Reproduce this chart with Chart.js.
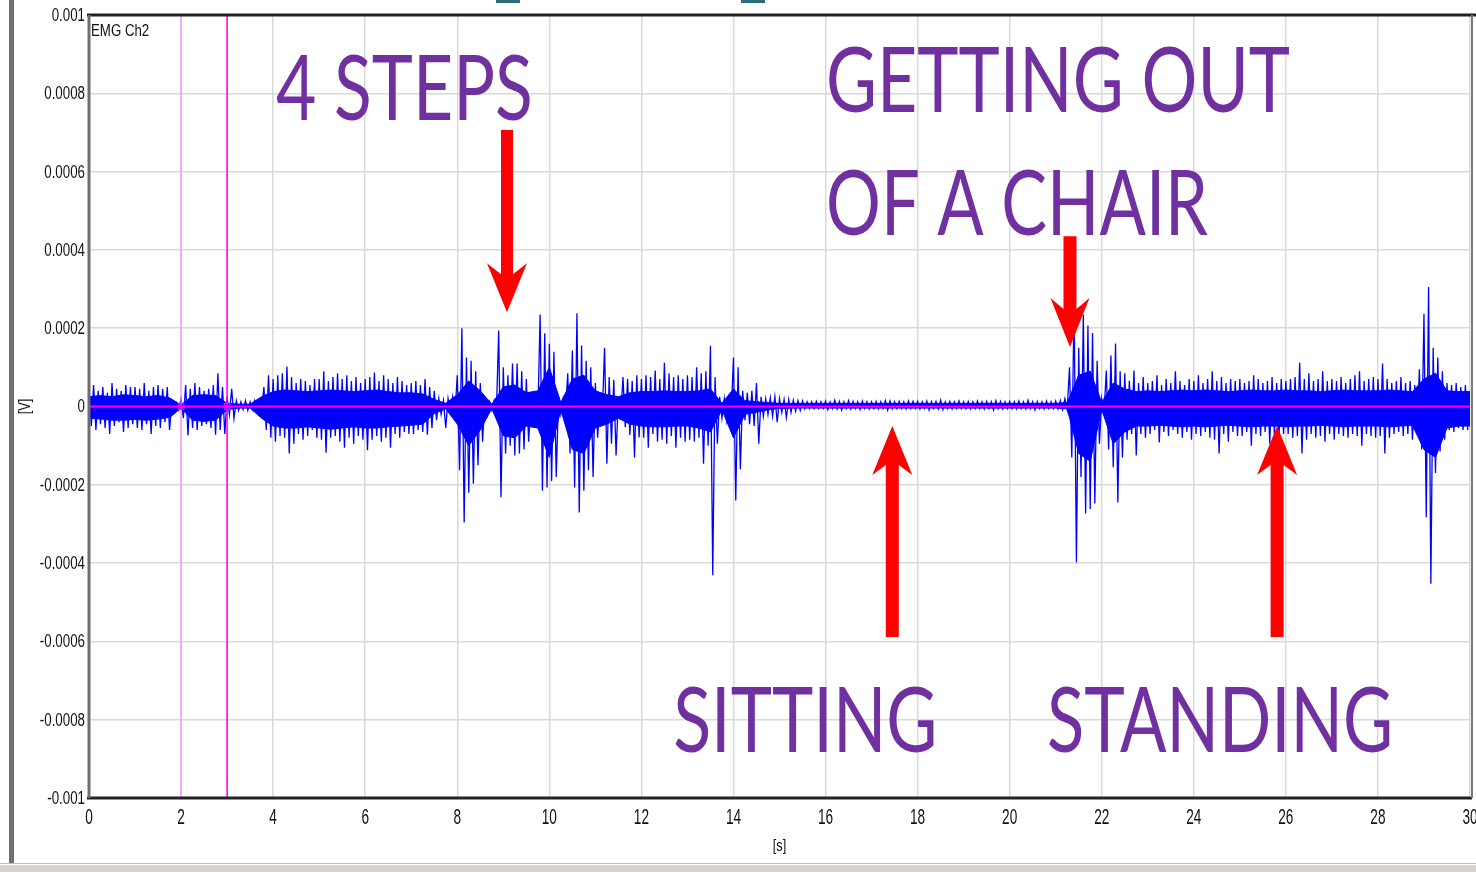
<!DOCTYPE html>
<html>
<head>
<meta charset="utf-8">
<script src="https://cdn.jsdelivr.net/npm/chart.js@4.4.1/dist/chart.umd.min.js"></script>
<style>
  html, body { margin: 0; padding: 0; background: #ffffff; }
  #wrap { width: 1476px; height: 872px; position: relative; }
</style>
</head>
<body>
<div id="wrap"><canvas id="c" width="1476" height="872"></canvas></div>
<script>
// ---------- DATA (values in microvolts) ----------
// peak envelope, one bin = 0.1 s
const binStep = 0.1;
const upperEnv = [
  45, 55, 40, 50, 35, 60, 45, 40, 55, 50,
  50, 45, 60, 40, 50, 55, 45, 50, 10, 8,
  20, 55, 45, 60, 50, 40, 45, 55, 85, 50,
  25, 45, 15, 12, 15, 12, 15, 12, 50, 80,
  70, 80, 85, 102, 75, 60, 70, 65, 55, 70,
  70, 90, 65, 75, 85, 70, 80, 65, 75, 60,
  70, 75, 87, 65, 80, 70, 60, 75, 65, 55,
  60, 65, 55, 70, 50, 40, 20, 15, 20, 25,
  80, 200, 125, 117, 90, 60, 20, 12, 15, 194,
  100, 80, 110, 110, 90, 70, 15, 20, 235, 187,
  160, 140, 25, 20, 85, 143, 238, 156, 117, 100,
  60, 20, 150, 75, 68, 25, 75, 70, 65, 80,
  70, 80, 75, 92, 70, 112, 85, 75, 80, 70,
  80, 75, 100, 85, 90, 155, 75, 25, 20, 20,
  125, 100, 40, 35, 40, 60, 25, 20, 22, 25,
  20, 18, 18, 16, 15, 14, 12, 12, 13, 12,
  14, 12, 16, 13, 12, 15, 13, 12, 14, 12,
  12, 13, 12, 15, 14, 12, 13, 12, 14, 13,
  13, 12, 14, 12, 13, 16, 12, 13, 12, 14,
  12, 13, 12, 14, 12, 13, 12, 15, 13, 12,
  13, 12, 14, 12, 16, 12, 13, 12, 14, 12,
  14, 15, 20, 100, 265, 150, 235, 207, 188, 117,
  20, 92, 130, 161, 90, 85, 66, 92, 60, 75,
  60, 65, 80, 55, 70, 60, 90, 65, 55, 70,
  65, 80, 60, 70, 90, 65, 75, 60, 70, 65,
  70, 60, 65, 80, 70, 60, 65, 75, 60, 70,
  65, 70, 75, 112, 70, 85, 65, 70, 90, 65,
  70, 65, 75, 60, 70, 80, 90, 65, 70, 75,
  70, 110, 70, 60, 65, 75, 60, 65, 55, 95,
  237, 305, 150, 125, 90, 60, 55, 60, 50, 55
];
const lowerEnv = [
  -50, -60, -45, -55, -70, -50, -40, -65, -55, -45,
  -55, -60, -45, -70, -50, -55, -40, -60, -15, -8,
  -30, -74, -55, -60, -50, -45, -55, -72, -60, -70,
  -20, -30, -10, -8, -10, -8, -10, -8, -60, -80,
  -90, -75, -80, -120, -95, -70, -85, -75, -60, -80,
  -85, -118, -80, -75, -90, -105, -80, -95, -75, -85,
  -112, -85, -75, -90, -80, -105, -70, -80, -65, -70,
  -70, -60, -65, -72, -55, -35, -20, -55, -15, -20,
  -163, -296, -220, -197, -150, -90, -20, -10, -15, -232,
  -120, -100, -125, -120, -110, -90, -15, -25, -215, -207,
  -190, -180, -20, -15, -120, -207, -271, -215, -163, -180,
  -80, -20, -146, -95, -125, -30, -53, -73, -130, -79,
  -80, -105, -70, -90, -85, -95, -75, -105, -80, -90,
  -85, -90, -80, -146, -100, -431, -95, -30, -35, -20,
  -240, -160, -35, -45, -50, -95, -25, -20, -25, -40,
  -15, -28, -15, -12, -10, -6, -5, -5, -5, -5,
  -8, -5, -6, -9, -5, -6, -5, -8, -5, -6,
  -5, -6, -5, -9, -6, -5, -5, -6, -5, -5,
  -6, -5, -9, -5, -6, -8, -5, -6, -5, -5,
  -5, -6, -5, -5, -6, -5, -9, -5, -6, -5,
  -5, -6, -5, -6, -5, -9, -5, -6, -5, -5,
  -6, -8, -8, -130, -398, -180, -273, -262, -248, -95,
  -15, -110, -155, -245, -130, -85, -70, -125, -70, -80,
  -70, -60, -92, -65, -75, -60, -70, -80, -65, -85,
  -70, -75, -65, -80, -85, -120, -70, -90, -65, -75,
  -75, -65, -100, -70, -75, -65, -95, -70, -80, -70,
  -70, -80, -75, -120, -85, -70, -80, -75, -90, -70,
  -85, -70, -75, -80, -70, -75, -100, -70, -75, -80,
  -75, -120, -80, -70, -65, -75, -70, -85, -65, -110,
  -283, -453, -170, -115, -85, -60, -65, -55, -60, -60
];
// dense core of the signal, one point every 0.25 s
const coreStep = 0.25;
const coreUpper = [
  25, 28, 25, 30, 28, 25, 28, 22,
  4, 28, 30, 28, 8, 6, 6, 25,
  38, 42, 40, 38, 40, 42, 40, 38,
  40, 42, 38, 35, 35, 32, 18, 8,
  30, 65, 40, 6, 50, 55, 35, 40,
  100, 10, 70, 80, 40, 30, 25, 35,
  38, 38, 40, 38, 38, 40, 45, 8,
  45, 15, 12, 10, 8, 8, 8, 8,
  8, 8, 8, 8, 8, 8, 8, 8,
  8, 8, 8, 8, 8, 8, 8, 8,
  8, 8, 8, 8, 8, 10, 80, 90,
  10, 60, 45, 38, 40, 38, 40, 42,
  40, 42, 40, 38, 40, 42, 40, 40,
  42, 40, 40, 38, 40, 42, 40, 40,
  40, 42, 40, 38, 70, 85, 40, 38,
  38
];
const coreLower = [
  -30, -32, -35, -35, -33, -35, -32, -28,
  -4, -35, -38, -35, -8, -4, -4, -30,
  -50, -55, -55, -52, -55, -58, -55, -52,
  -55, -55, -52, -50, -48, -45, -18, -6,
  -45, -100, -60, -5, -75, -80, -50, -55,
  -130, -8, -110, -120, -55, -45, -30, -45,
  -50, -52, -52, -50, -50, -55, -65, -8,
  -80, -20, -15, -8, -5, -4, -4, -4,
  -4, -4, -4, -4, -4, -4, -4, -4,
  -4, -4, -4, -4, -4, -4, -4, -4,
  -4, -4, -4, -4, -4, -6, -120, -140,
  -8, -95, -65, -50, -50, -48, -50, -52,
  -50, -52, -50, -48, -50, -52, -50, -50,
  -52, -50, -50, -48, -50, -52, -50, -50,
  -50, -52, -50, -48, -110, -130, -55, -50,
  -50
];
const cursorTimes = [2, 3];
const yTickLabels = ['0.001', '0.0008', '0.0006', '0.0004', '0.0002', '0',
                     '-0.0002', '-0.0004', '-0.0006', '-0.0008', '-0.001'];
const xTickLabels = ['0', '2', '4', '6', '8', '10', '12', '14', '16', '18',
                     '20', '22', '24', '26', '28', '30'];
const axisTitles = { x: '[s]', y: '[V]' };
const channelName = 'EMG Ch2';
const noteTexts = ['4 STEPS', 'GETTING OUT', 'OF A CHAIR', 'SITTING', 'STANDING'];

// ---------- BUILD ----------
const signalPoints = [];
for (let i = 0; i < upperEnv.length; i++) {
  signalPoints.push({ x: i * binStep, y: upperEnv[i] });
  signalPoints.push({ x: i * binStep + binStep / 2, y: lowerEnv[i] });
}
const corePtsUp = coreUpper.map((v, i) => ({ x: i * coreStep, y: v }));
const corePtsLo = coreLower.map((v, i) => ({ x: i * coreStep, y: v }));
const tMax = upperEnv.length * binStep;

const cursorSets = cursorTimes.map((t, k) => ({
  data: [{ x: t, y: -1000 }, { x: t, y: 1000 }],
  borderColor: k === 0 ? '#ff8cff' : '#ff00ff',
  borderWidth: k === 0 ? 1.2 : 1.6,
  pointRadius: 0, order: 1, fill: false
}));

const LAB = "'Liberation Sans', Arial, sans-serif";

function squeezed(ctx, text, x, y, sx, align) {
  const w = ctx.measureText(text).width * sx;
  const x0 = align === 'right' ? x - w : (align === 'center' ? x - w / 2 : x);
  ctx.save();
  ctx.translate(x0, y);
  ctx.scale(sx, 1);
  ctx.textAlign = 'left';
  ctx.fillText(text, 0, 0);
  ctx.restore();
}

const notesPlugin = {
  id: 'emgNotes',
  beforeDraw(chart) {
    const ctx = chart.ctx;
    ctx.save();
    ctx.fillStyle = '#ffffff';
    ctx.fillRect(0, 0, chart.width, chart.height);
    ctx.restore();
  },
  afterDraw(chart, args, opts) {
    const ctx = chart.ctx;
    const xs = chart.scales.x, ys = chart.scales.y;
    const ca = chart.chartArea;
    ctx.save();
    // plot frame
    ctx.strokeStyle = '#222';
    ctx.lineWidth = 3;
    ctx.beginPath(); ctx.moveTo(ca.left - 2, ca.top); ctx.lineTo(chart.width, ca.top); ctx.stroke();
    ctx.beginPath(); ctx.moveTo(ca.left - 2, ca.bottom); ctx.lineTo(ca.right + 2, ca.bottom); ctx.stroke();
    ctx.strokeStyle = '#6e6e6e';
    ctx.beginPath(); ctx.moveTo(ca.left, ca.top); ctx.lineTo(ca.left, ca.bottom); ctx.stroke();
    ctx.lineWidth = 2;
    ctx.strokeStyle = '#7a7a7a';
    ctx.beginPath(); ctx.moveTo(ca.right + 2, ca.top); ctx.lineTo(ca.right + 2, ca.bottom); ctx.stroke();

    // window decorations
    ctx.fillStyle = '#707070';
    ctx.fillRect(9, 0, 5, chart.height - 8);
    ctx.fillStyle = '#bdbdbd';
    ctx.fillRect(0, chart.height - 9, chart.width, 1);
    ctx.fillStyle = '#d6d3ce';
    ctx.fillRect(0, chart.height - 7, chart.width, 7);
    ctx.fillStyle = '#2c6b7b';
    ctx.fillRect(496, 0, 24, 3);
    ctx.fillRect(741, 0, 24, 3);

    // tick labels
    ctx.fillStyle = '#111';
    ctx.font = '18px ' + LAB;
    ctx.textBaseline = 'middle';
    yTickLabels.forEach((lab, k) => {
      const y = ys.getPixelForValue(ys.max - k * (ys.max - ys.min) / (yTickLabels.length - 1));
      squeezed(ctx, lab, ca.left - 4, y + 1, 0.74, 'right');
    });
    ctx.font = '22px ' + LAB;
    ctx.textBaseline = 'top';
    xTickLabels.forEach((lab, k) => {
      const x = xs.getPixelForValue(xs.min + k * (xs.max - xs.min) / (xTickLabels.length - 1));
      squeezed(ctx, lab, x, ca.bottom + 9, 0.62, 'center');
    });
    // axis titles
    ctx.font = '16px ' + LAB;
    ctx.textBaseline = 'middle';
    squeezed(ctx, axisTitles.x, (ca.left + ca.right) / 2, 847, 0.8, 'center');
    ctx.save();
    ctx.translate(26, (ca.top + ca.bottom) / 2);
    ctx.rotate(-Math.PI / 2);
    squeezed(ctx, axisTitles.y, 0, 0, 0.8, 'center');
    ctx.restore();

    // channel name
    ctx.font = '17px ' + LAB;
    ctx.textBaseline = 'top';
    squeezed(ctx, channelName, ca.left + 2, ca.top + 8, 0.78, 'left');

    // arrows
    ctx.fillStyle = opts.arrowColor;
    opts.arrows.forEach(a => {
      const x = xs.getPixelForValue(a.t);
      const yTail = ys.getPixelForValue(a.vTail);
      const yTip = ys.getPixelForValue(a.vTip);
      const dir = Math.sign(yTip - yTail);
      const yBase = yTip - dir * a.headLen;
      const yJoin = yBase + dir * a.notch;
      ctx.beginPath();
      ctx.moveTo(x - a.shaft / 2, yTail);
      ctx.lineTo(x - a.shaft / 2, yJoin);
      ctx.lineTo(x - a.headW / 2, yBase);
      ctx.lineTo(x, yTip);
      ctx.lineTo(x + a.headW / 2, yBase);
      ctx.lineTo(x + a.shaft / 2, yJoin);
      ctx.lineTo(x + a.shaft / 2, yTail);
      ctx.closePath();
      ctx.fill();
    });

    // big notes
    ctx.fillStyle = opts.textColor;
    ctx.font = opts.textFont;
    ctx.textBaseline = 'alphabetic';
    ctx.textAlign = 'left';
    opts.texts.forEach(n => {
      const text = noteTexts[n.idx];
      const x0 = xs.getPixelForValue(n.t);
      const x1 = xs.getPixelForValue(n.t + n.span);
      const y = ys.getPixelForValue(n.v);
      const w = ctx.measureText(text).width;
      ctx.save();
      ctx.translate(x0, y);
      ctx.scale((x1 - x0) / w, 1);
      ctx.fillText(text, 0, 0);
      ctx.restore();
    });
    ctx.restore();
  }
};

new Chart(document.getElementById('c'), {
  type: 'line',
  data: {
    datasets: [
      {
        data: [{ x: 0, y: 0 }, { x: tMax, y: 0 }],
        borderColor: '#ff00ff', borderWidth: 2, pointRadius: 0, order: 0, fill: false
      },
      {
        data: cursorTimes.map(t => ({ x: t, y: 0 })),
        showLine: false, pointStyle: 'rect', pointRadius: 4,
        borderColor: '#ff00ff', backgroundColor: 'rgba(0,0,0,0)', borderWidth: 1.2, order: 0
      },
      ...cursorSets,
      {
        data: signalPoints,
        borderColor: '#0000ff', borderWidth: 1.3, pointRadius: 0,
        tension: 0, order: 5, fill: false
      },
      {
        data: corePtsUp,
        borderColor: '#0000ff', borderWidth: 1, pointRadius: 0,
        backgroundColor: '#0000ff', fill: '+1', tension: 0, order: 6
      },
      {
        data: corePtsLo,
        borderColor: '#0000ff', borderWidth: 1, pointRadius: 0,
        fill: false, tension: 0, order: 6
      }
    ]
  },
  options: {
    responsive: false,
    animation: false,
    devicePixelRatio: 1,
    parsing: false,
    normalized: true,
    layout: { padding: { top: 15, right: 6, left: 0, bottom: 0 } },
    plugins: {
      legend: { display: false },
      tooltip: { enabled: false },
      emgNotes: {
        arrowColor: '#ff0000',
        textColor: '#7030a0',
        textFont: '92px Lato, "Open Sans", sans-serif',
        texts: [
          { idx: 0, t: 4.06, v: 732, span: 5.58 },
          { idx: 1, t: 16.01, v: 752, span: 10.08 },
          { idx: 2, t: 16.01, v: 438, span: 8.30 },
          { idx: 3, t: 12.69, v: -882, span: 5.74 },
          { idx: 4, t: 20.81, v: -882, span: 7.52 }
        ],
        arrows: [
          { t: 9.08, vTail: 706, vTip: 241, shaft: 12, headW: 40, headLen: 49, notch: 11 },
          { t: 21.31, vTail: 435, vTip: 152, shaft: 13, headW: 39, headLen: 49, notch: 11 },
          { t: 17.45, vTail: -589, vTip: -50, shaft: 13, headW: 40, headLen: 49, notch: 10 },
          { t: 25.81, vTail: -589, vTip: -50, shaft: 13, headW: 40, headLen: 49, notch: 10 }
        ]
      }
    },
    scales: {
      x: {
        type: 'linear', min: 0, max: 30,
        afterFit(scale) { scale.height = 74; scale.paddingLeft = 0; scale.paddingRight = 0; },
        border: { display: false },
        grid: { color: '#d9d9d9', lineWidth: 1.5, drawTicks: false },
        ticks: { stepSize: 2, display: false },
        title: { display: false }
      },
      y: {
        type: 'linear', min: -1000, max: 1000,
        afterFit(scale) { scale.width = 89; scale.paddingTop = 0; scale.paddingBottom = 0; },
        border: { display: false },
        grid: { color: '#d9d9d9', lineWidth: 1.5, drawTicks: false },
        ticks: { stepSize: 200, display: false },
        title: { display: false }
      }
    }
  },
  plugins: [notesPlugin]
});
</script>
</body>
</html>
